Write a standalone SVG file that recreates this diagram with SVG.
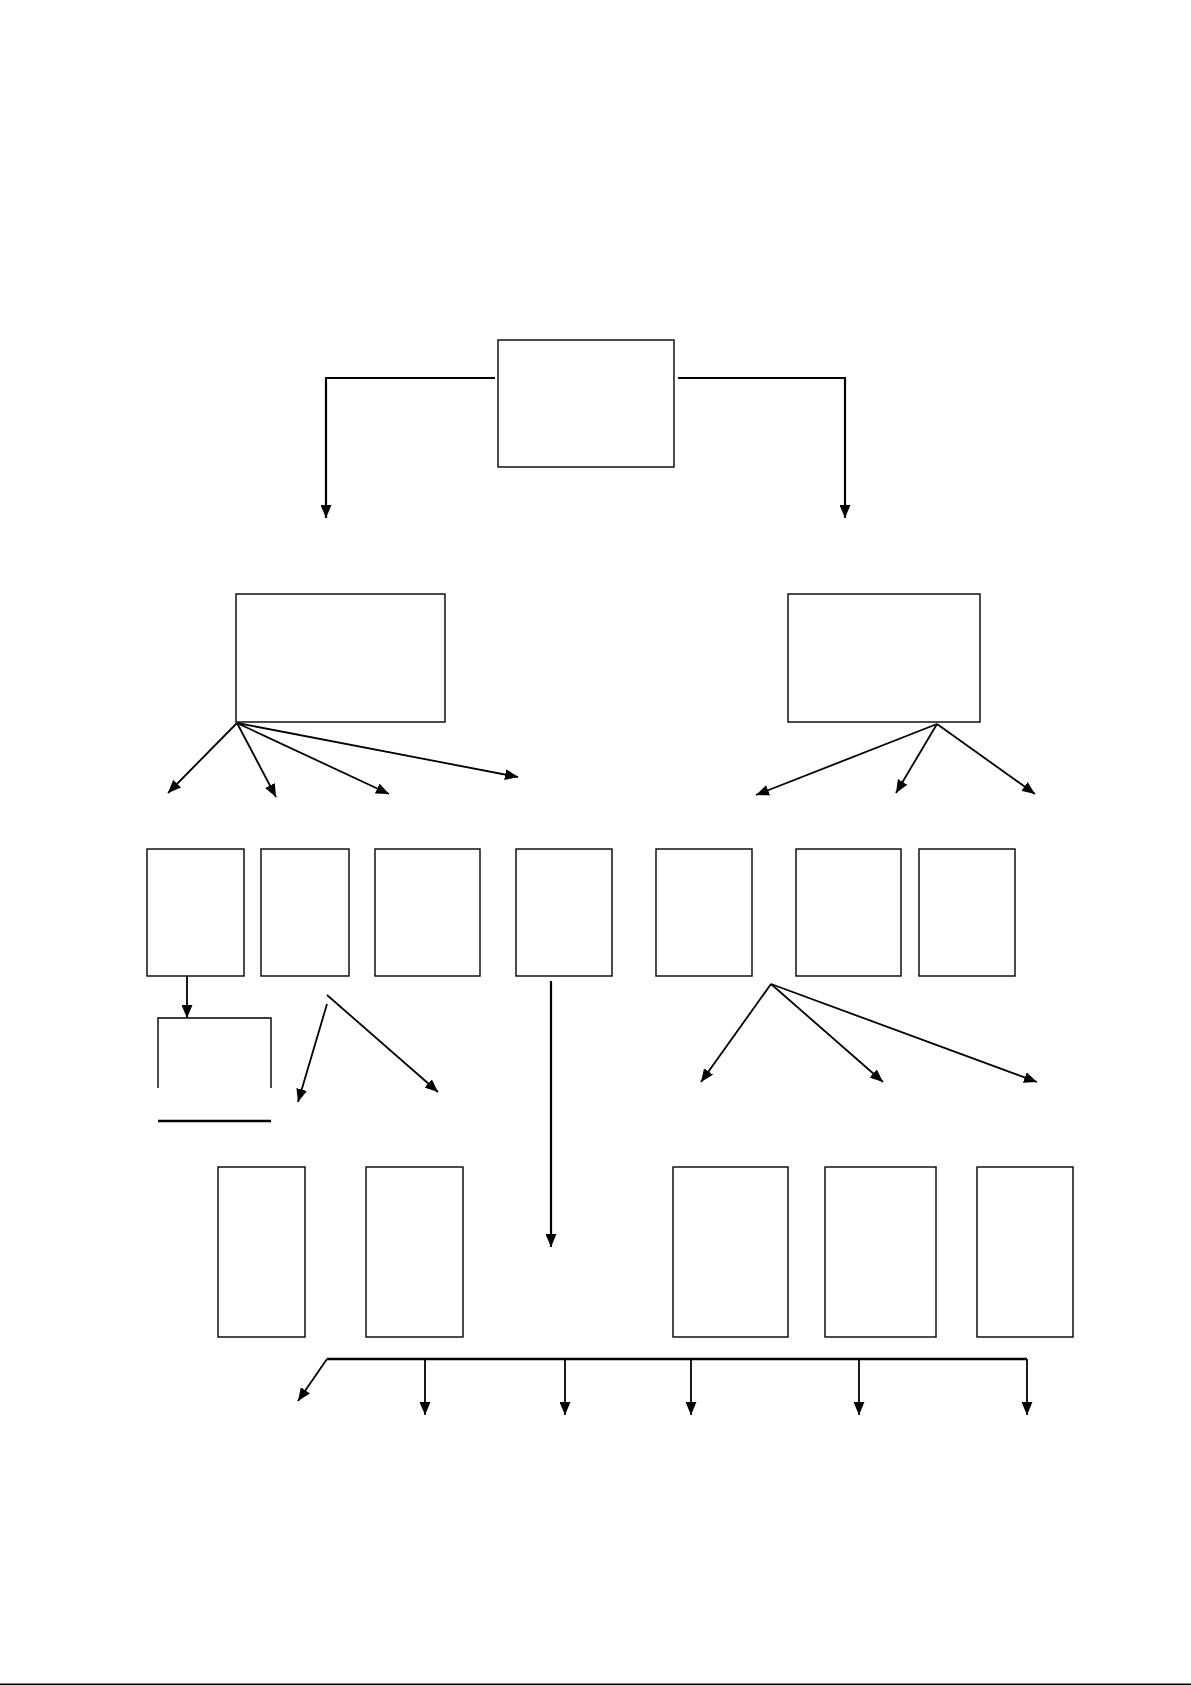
<svg xmlns="http://www.w3.org/2000/svg" width="1191" height="1685" viewBox="0 0 1191 1685">
<style>
.n{fill:#fff;stroke:#000;stroke-width:1.4}
.c{fill:none;stroke:#000;stroke-width:1.8;marker-end:url(#ah)}
.t{fill:none;stroke:#000;stroke-width:2.4}
.ta{fill:none;stroke:#000;stroke-width:2.2;marker-end:url(#ah)}
</style>
<defs>
<marker id="ah" viewBox="0 0 13 11" refX="13" refY="5.5" markerWidth="13" markerHeight="11" markerUnits="userSpaceOnUse" orient="auto">
<path d="M0,0 L13,5.5 L0,11 Z" fill="#000"/>
</marker>
</defs>
<rect x="0" y="0" width="1191" height="1685" fill="#fff"/>
<g id="nodes">
<g id="top"><rect class="n" x="498" y="340" width="176" height="127"/></g>
<g id="left-main"><rect class="n" x="236" y="594" width="209" height="128"/></g>
<g id="right-main"><rect class="n" x="788" y="594" width="192" height="128"/></g>
<g id="m1"><rect class="n" x="147" y="849" width="97" height="127"/></g>
<g id="m2"><rect class="n" x="261" y="849" width="88" height="127"/></g>
<g id="m3"><rect class="n" x="375" y="849" width="105" height="127"/></g>
<g id="m4"><rect class="n" x="516" y="849" width="96" height="127"/></g>
<g id="m5"><rect class="n" x="656" y="849" width="96" height="127"/></g>
<g id="m6"><rect class="n" x="796" y="849" width="105" height="127"/></g>
<g id="m7"><rect class="n" x="919" y="849" width="96" height="127"/></g>
<g id="bracket"><path d="M158,1088 V1018 H271 V1088" fill="none" stroke="#000" stroke-width="1.4"/><path class="t" d="M158,1121 H271"/></g>
<g id="b1"><rect class="n" x="218" y="1167" width="87" height="170"/></g>
<g id="b2"><rect class="n" x="366" y="1167" width="97" height="170"/></g>
<g id="b3"><rect class="n" x="673" y="1167" width="115" height="170"/></g>
<g id="b4"><rect class="n" x="825" y="1167" width="111" height="170"/></g>
<g id="b5"><rect class="n" x="977" y="1167" width="96" height="170"/></g>
</g>
<g id="connectors">
<path class="ta" d="M495,378 H326 V518"/>
<path class="ta" d="M678,378 H845 V518"/>
<line class="c" x1="237" y1="723" x2="168" y2="793"/>
<line class="c" x1="237" y1="723" x2="276" y2="797"/>
<line class="c" x1="237" y1="723" x2="389" y2="794"/>
<line class="c" x1="237" y1="723" x2="518" y2="777"/>
<line class="c" x1="937" y1="724" x2="756" y2="795"/>
<line class="c" x1="937" y1="724" x2="896" y2="793"/>
<line class="c" x1="937" y1="724" x2="1035" y2="794"/>
<line class="c" x1="187" y1="976" x2="187" y2="1018"/>
<line class="c" x1="327" y1="1004" x2="298" y2="1102"/>
<line class="c" x1="327" y1="995" x2="438" y2="1092"/>
<line class="ta" x1="551" y1="981" x2="551" y2="1247"/>
<line class="c" x1="771" y1="984" x2="701" y2="1082"/>
<line class="c" x1="771" y1="984" x2="883" y2="1082"/>
<line class="c" x1="771" y1="984" x2="1037" y2="1082"/>
<path class="t" d="M327,1359 H1027"/>
<line class="c" x1="327" y1="1359" x2="298" y2="1401"/>
<line class="c" x1="425" y1="1359" x2="425" y2="1415"/>
<line class="c" x1="565" y1="1359" x2="565" y2="1415"/>
<line class="c" x1="691" y1="1359" x2="691" y2="1415"/>
<line class="c" x1="859" y1="1359" x2="859" y2="1415"/>
<line class="c" x1="1027" y1="1359" x2="1027" y2="1415"/>
</g>
<rect x="0" y="1683.5" width="1191" height="1.5" fill="#000"/>
</svg>
